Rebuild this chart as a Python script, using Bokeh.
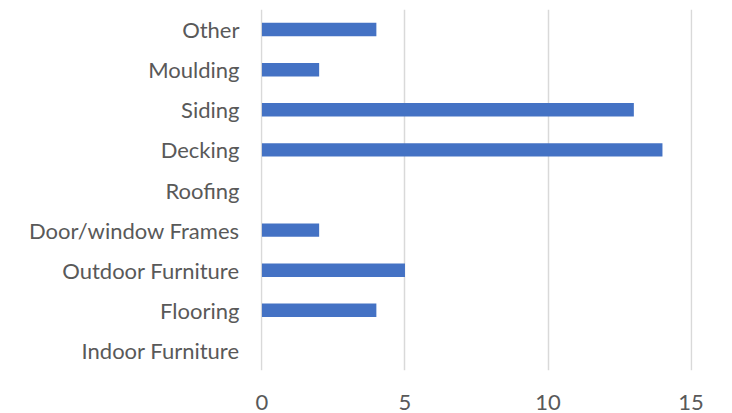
from bokeh.plotting import figure
from bokeh.models import Range1d, FactorRange, FixedTicker
from bokeh.embed import file_html
from bokeh.resources import INLINE

categories = ["Indoor Furniture", "Flooring", "Outdoor Furniture", "Door/window Frames",
              "Roofing", "Decking", "Siding", "Moulding", "Other"]
values = [0, 4, 5, 2, 0, 14, 13, 2, 4]
x_ticks = [0, 5, 10, 15]

p = figure(width=732, height=413, output_backend="svg", toolbar_location=None,
           y_range=FactorRange(*categories), x_range=Range1d(-0.05, 15.05))
p.min_border_left = 260
p.min_border_right = 40
p.min_border_top = 9
p.min_border_bottom = 43
p.outline_line_color = None
p.background_fill_color = "white"
p.border_fill_color = "white"

p.hbar(y=categories, right=values, left=0, height=0.335, color="#4472C4", line_color=None)

p.xaxis.ticker = FixedTicker(ticks=x_ticks)
p.xgrid.ticker = FixedTicker(ticks=x_ticks)
p.xgrid.grid_line_color = "#d9d9d9"
p.xgrid.grid_line_width = 1.5
p.ygrid.grid_line_color = None

for ax in (p.xaxis, p.yaxis):
    ax.axis_line_color = None
    ax.major_tick_line_color = None
    ax.minor_tick_line_color = None
    ax.major_label_text_font = "Lato"
    ax.major_label_text_font_size = "22px"
    ax.major_label_text_color = "#595959"
p.xaxis.major_label_standoff = 18
p.yaxis.major_label_standoff = 15

open("out.html", "w").write(file_html(p, INLINE))
